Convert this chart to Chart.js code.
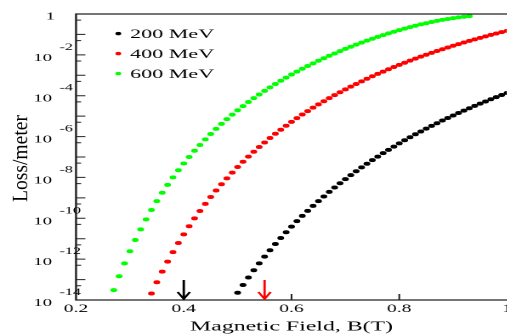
<!DOCTYPE html>
<html>
<head>
<meta charset="utf-8">
<script src="https://cdn.jsdelivr.net/npm/chart.js@4.4.1/dist/chart.umd.min.js"></script>
<style>
  html, body { margin: 0; padding: 0; background: #fff; width: 507px; height: 334px; overflow: hidden; }
  /* the reference is stretched sideways: draw narrow, then widen */
  #wrap { position: absolute; left: 0; top: 0; width: 310px; height: 340px; transform: scaleX(1.7); transform-origin: 0 0; }
</style>
</head>
<body>
<div id="wrap"><canvas id="chart" width="310" height="340"></canvas></div>
<script>
// Magnetic field (T), one point every 0.01 T
const fieldB = [
  0.27, 0.28, 0.29, 0.30, 0.31, 0.32, 0.33, 0.34, 0.35, 0.36,
  0.37, 0.38, 0.39, 0.40, 0.41, 0.42, 0.43, 0.44, 0.45, 0.46,
  0.47, 0.48, 0.49, 0.50, 0.51, 0.52, 0.53, 0.54, 0.55, 0.56,
  0.57, 0.58, 0.59, 0.60, 0.61, 0.62, 0.63, 0.64, 0.65, 0.66,
  0.67, 0.68, 0.69, 0.70, 0.71, 0.72, 0.73, 0.74, 0.75, 0.76,
  0.77, 0.78, 0.79, 0.80, 0.81, 0.82, 0.83, 0.84, 0.85, 0.86,
  0.87, 0.88, 0.89, 0.90, 0.91, 0.92, 0.93, 0.94, 0.95, 0.96,
  0.97, 0.98, 0.99, 1.00
];

// Loss/meter (null = no point)
const loss200 = [
  null, null, null, null, null, null, null, null, null, null,
  null, null, null, null, null, null, null, null, null, null,
  null, null, null,
  2.26e-14, 5.43e-14, 1.26e-13, 2.84e-13, 6.20e-13, 1.32e-12, 2.72e-12, 5.49e-12, 1.08e-11, 2.08e-11,
  3.91e-11, 7.22e-11, 1.31e-10, 2.32e-10, 4.05e-10, 6.95e-10, 1.17e-9, 1.95e-9, 3.20e-9, 5.17e-9,
  8.24e-9, 1.30e-8, 2.01e-8, 3.09e-8, 4.69e-8, 7.05e-8, 1.05e-7, 1.54e-7, 2.24e-7, 3.24e-7,
  4.63e-7, 6.57e-7, 9.23e-7, 1.29e-6, 1.78e-6, 2.45e-6, 3.34e-6, 4.52e-6, 6.08e-6, 8.12e-6,
  1.08e-5, 1.42e-5, 1.87e-5, 2.44e-5, 3.16e-5, 4.08e-5, 5.24e-5, 6.69e-5, 8.50e-5, 1.08e-4,
  1.35e-4
];
const loss400 = [
  null, null, null, null, null, null, null,
  2.07e-14, 7.37e-14, 2.44e-13, 7.58e-13, 2.22e-12, 6.16e-12, 1.62e-11, 4.09e-11, 9.86e-11, 2.28e-10,
  5.09e-10, 1.10e-9, 2.28e-9, 4.61e-9, 9.04e-9, 1.73e-8, 3.22e-8, 5.85e-8, 1.04e-7, 1.81e-7,
  3.08e-7, 5.16e-7, 8.47e-7, 1.37e-6, 2.17e-6, 3.40e-6, 5.25e-6, 7.97e-6, 1.20e-5, 1.77e-5,
  2.60e-5, 3.76e-5, 5.38e-5, 7.62e-5, 1.07e-4, 1.48e-4, 2.04e-4, 2.79e-4, 3.77e-4, 5.06e-4,
  6.74e-4, 8.91e-4, 1.17e-3, 1.52e-3, 1.97e-3, 2.54e-3, 3.24e-3, 4.12e-3, 5.21e-3, 6.55e-3,
  8.16e-3, 1.01e-2, 1.25e-2, 1.54e-2, 1.89e-2, 2.30e-2, 2.79e-2, 3.36e-2, 4.04e-2, 4.83e-2,
  5.75e-2, 6.82e-2, 8.05e-2, 9.45e-2, 0.111, 0.129, 0.149
];
const loss600 = [
  3.04e-14, 1.45e-13, 6.23e-13, 2.42e-12, 8.66e-12, 2.86e-11, 8.80e-11, 2.53e-10, 6.88e-10, 1.77e-9,
  4.32e-9, 1.01e-8, 2.25e-8, 4.84e-8, 1.00e-7, 2.01e-7, 3.89e-7, 7.32e-7, 1.34e-6, 2.39e-6,
  4.17e-6, 7.10e-6, 1.18e-5, 1.93e-5, 3.10e-5, 4.89e-5, 7.57e-5, 1.15e-4, 1.73e-4, 2.57e-4,
  3.75e-4, 5.41e-4, 7.70e-4, 1.09e-3, 1.51e-3, 2.09e-3, 2.85e-3, 3.85e-3, 5.16e-3, 6.85e-3,
  8.99e-3, 1.17e-2, 1.52e-2, 1.96e-2, 2.49e-2, 3.16e-2, 3.97e-2, 4.96e-2, 6.15e-2, 7.57e-2,
  9.26e-2, 0.112, 0.136, 0.162, 0.193, 0.227, 0.266, 0.309, 0.355, 0.406,
  0.459, 0.514, 0.571, 0.628, 0.684, 0.737, 0.787,
  null, null, null, null, null, null, null
];

const seriesLabels = ["200 MeV", "400 MeV", "600 MeV"];
const seriesColors = ["#000000", "#ff0000", "#00ff00"];
const seriesLoss = [loss200, loss400, loss600];

const yLabelExps = [0, -2, -4, -6, -8, -10, -12, -14];
const markerB = [0.4, 0.55];
const markerColors = ["#000000", "#ff0000"];

const SERIF = "'Liberation Serif', 'DejaVu Serif', serif";
const yTitle = "Loss/meter";

const decorations = {
  id: "decorations",
  afterDatasetsDraw(chart) {
    const { ctx, chartArea: a, scales: { x, y } } = chart;
    ctx.save();

    // frame (right edge falls outside the picture)
    ctx.strokeStyle = "#222";
    ctx.lineWidth = 1.2;
    ctx.beginPath();
    ctx.moveTo(a.right + 8, a.top);
    ctx.lineTo(a.left, a.top);
    ctx.lineTo(a.left, a.bottom);
    ctx.lineTo(a.right + 8, a.bottom);
    ctx.stroke();

    // inward ticks
    ctx.lineWidth = 1;
    ctx.beginPath();
    for (let e = -13; e <= 0; e++) {
      const py = y.getPixelForValue(10 ** e);
      ctx.moveTo(a.left, py);
      ctx.lineTo(a.left + 5.5, py);
      const pm = y.getPixelForValue(5 * 10 ** (e - 1));
      ctx.moveTo(a.left, pm);
      ctx.lineTo(a.left + 3, pm);
    }
    x.ticks.forEach(t => {
      if (t.value <= x.min || t.value >= x.max) return;
      const px = x.getPixelForValue(t.value);
      ctx.moveTo(px, a.bottom);
      ctx.lineTo(px, a.bottom - 6);
    });
    ctx.stroke();

    // y tick labels: 1, 10^-2 ... 10^-14
    ctx.fillStyle = "#000";
    ctx.textBaseline = "alphabetic";
    yLabelExps.forEach(e => {
      const py = y.getPixelForValue(10 ** e);
      if (e === 0) {
        ctx.font = `11px ${SERIF}`;
        ctx.textAlign = "right";
        ctx.fillText("1", a.left - 12.3, py + 5.3);
      } else {
        ctx.font = `11px ${SERIF}`;
        ctx.textAlign = "right";
        ctx.fillText("10", a.left - 14.1, py + 6);
        ctx.font = `9.5px ${SERIF}`;
        ctx.textAlign = "left";
        ctx.fillText(String(e), a.left - 9.7, py - 5);
      }
    });

    // y title, set wider along its length
    ctx.save();
    ctx.translate(15.9, (a.top + a.bottom) / 2 + 1.5);
    ctx.rotate(-Math.PI / 2);
    ctx.font = `12.4px ${SERIF}`;
    const w = ctx.measureText(yTitle).width;
    ctx.scale(87 / w, 1);
    ctx.textAlign = "center";
    ctx.textBaseline = "alphabetic";
    ctx.fillText(yTitle, 0, 0);
    ctx.restore();

    // legend
    chart.data.datasets.forEach((ds, i) => {
      const ly = 33.6 + 20 * i;
      ctx.fillStyle = ds.backgroundColor;
      ctx.beginPath();
      ctx.arc(69.6, ly, 1.7, 0, Math.PI * 2);
      ctx.fill();
      ctx.fillStyle = "#000";
      ctx.font = `13px ${SERIF}`;
      ctx.textAlign = "left";
      ctx.fillText(ds.label, 76.5, ly + 4.6);
    });

    // arrows marking the fields
    markerB.forEach((b, i) => {
      const px = x.getPixelForValue(b);
      ctx.strokeStyle = markerColors[i];
      ctx.lineWidth = 1.4;
      ctx.beginPath();
      ctx.moveTo(px, a.bottom - 20);
      ctx.lineTo(px, a.bottom - 1);
      ctx.moveTo(px - 3.6, a.bottom - 8);
      ctx.lineTo(px, a.bottom - 1);
      ctx.lineTo(px + 3.6, a.bottom - 8);
      ctx.stroke();
    });

    ctx.restore();
  }
};

new Chart(document.getElementById("chart"), {
  type: "scatter",
  data: {
    datasets: seriesLabels.map((label, i) => ({
      label,
      data: fieldB.map((b, k) => ({ x: b, y: seriesLoss[i][k] })).filter(p => p.y !== null),
      backgroundColor: seriesColors[i],
      borderWidth: 0,
      pointRadius: 2,
      pointHoverRadius: 2,
      showLine: false
    }))
  },
  options: {
    responsive: false,
    animation: false,
    devicePixelRatio: 2,
    events: [],
    layout: { padding: { top: 14, right: 11.76, left: 0, bottom: 0 } },
    plugins: { legend: { display: false }, tooltip: { enabled: false } },
    scales: {
      x: {
        type: "linear",
        min: 0.2,
        max: 1,
        ticks: {
          stepSize: 0.2,
          callback: v => String(Number(v.toFixed(1))),
          color: "#000",
          font: { family: SERIF, size: 11.5 },
          padding: 2,
          maxRotation: 0,
          autoSkip: false
        },
        grid: { display: false, drawTicks: false },
        border: { display: false },
        title: { display: true, text: "Magnetic Field, B(T)", color: "#000", font: { family: SERIF, size: 14 }, padding: { top: 0, bottom: 4.6 } },
        afterFit(s) { s.height = 40; }
      },
      y: {
        type: "logarithmic",
        min: 1e-14,
        max: 1,
        ticks: { display: false },
        grid: { display: false, drawTicks: false },
        border: { display: false },
        afterFit(s) { s.width = 44.71; }
      }
    }
  },
  plugins: [decorations]
});
</script>
</body>
</html>
